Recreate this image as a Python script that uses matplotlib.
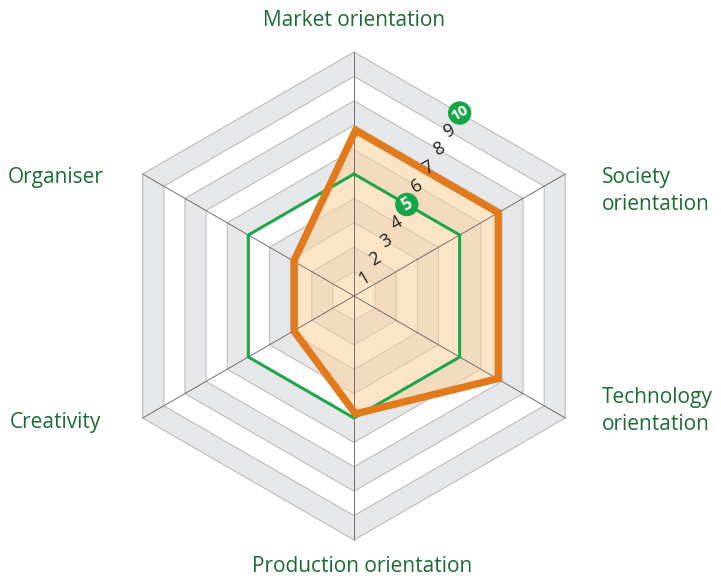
import numpy as np
import matplotlib.pyplot as plt
from matplotlib.patches import Polygon, Circle

categories = ["Market orientation", "Society\norientation", "Technology\norientation",
              "Production orientation", "Creativity", "Organiser"]
angles_deg = [90, 30, -30, -90, -150, 150]
profile = [7, 7, 7, 5, 3, 3]      # orange
reference = [5, 5, 5, 5, 5, 5]    # green
levels = list(range(1, 11))

plt.rcParams['font.family'] = ['Open Sans', 'DejaVu Sans']

W, H = 721, 578
CX, CY, UNIT = 354, 296, 24.4

fig = plt.figure(figsize=(W / 100, H / 100), dpi=100)
ax = fig.add_axes([0, 0, 1, 1])
ax.set_xlim(-CX / UNIT, (W - CX) / UNIT)
ax.set_ylim(-(H - CY) / UNIT, CY / UNIT)
ax.axis('off')

ang = np.radians(angles_deg)


def pts(vals):
    vals = np.asarray(vals, dtype=float)
    return np.column_stack([vals * np.cos(ang), vals * np.sin(ang)])


def px(x, y):
    return (x - CX) / UNIT, (CY - y) / UNIT


GREY = '#e6e7e9'
# bands, outer first
for lv in levels[::-1]:
    col = GREY if lv % 2 == 0 else 'white'
    ax.add_patch(Polygon(pts([lv] * 6), closed=True, facecolor=col, edgecolor='none', zorder=1))
for lv in levels:
    ax.add_patch(Polygon(pts([lv] * 6), closed=True, facecolor='none', edgecolor='#bdbdbf',
                         lw=0.8, zorder=2))

# filled profile
ax.add_patch(Polygon(pts(profile), closed=True, facecolor='#fbd09a', alpha=0.55,
                     edgecolor='none', zorder=3))

# spokes
outer = pts([10] * 6)
for x, y in outer:
    ax.plot([0, x], [0, y], color='#6f6f6f', lw=0.7, zorder=4)

# green reference
g = pts(reference)
g = np.vstack([g, g[:1]])
ax.plot(g[:, 0], g[:, 1], color='#1ea64a', lw=2.2, zorder=5, solid_joinstyle='miter')

# orange profile, stroke kept inside polygon
clip = Polygon(pts(profile), closed=True, transform=ax.transData, facecolor='none',
               edgecolor='none')
ax.add_patch(clip)
o = pts(profile)
o = np.vstack([o, o[:1]])
line, = ax.plot(o[:, 0], o[:, 1], color='#e07a1c', lw=10.5, zorder=6, solid_joinstyle='miter')
line.set_clip_path(clip)

# scale numbers along 60 degree direction
a60 = np.radians(60)
for lv in levels:
    r = lv * np.cos(np.radians(30))
    x, y = r * np.cos(a60), r * np.sin(a60)
    if lv in (5, 10):
        ax.add_patch(Circle((x, y), 0.48, facecolor='#16a547', edgecolor='none', zorder=7))
        ax.text(x, y, str(lv), color='white', fontsize=12 if lv == 5 else 11,
                fontweight='bold', rotation=30, ha='center', va='center', zorder=8)
    else:
        ax.text(x, y, str(lv), color='#222222', fontsize=13, rotation=30,
                ha='center', va='center', zorder=8)

TXT = '#1b6b34'
fs = 15
ax.text(*px(354, 21), categories[0], color=TXT, fontsize=fs, ha='center', va='center')
ax.text(*px(602, 191), categories[1], color=TXT, fontsize=fs, ha='left', va='center',
        linespacing=1.4)
ax.text(*px(602, 411), categories[2], color=TXT, fontsize=fs, ha='left', va='center',
        linespacing=1.4)
ax.text(*px(362, 567), categories[3], color=TXT, fontsize=fs, ha='center', va='center')
ax.text(*px(10, 422), categories[4], color=TXT, fontsize=fs, ha='left', va='center')
ax.text(*px(8, 177), categories[5], color=TXT, fontsize=fs, ha='left', va='center')

fig.savefig('out.png', dpi=100)
